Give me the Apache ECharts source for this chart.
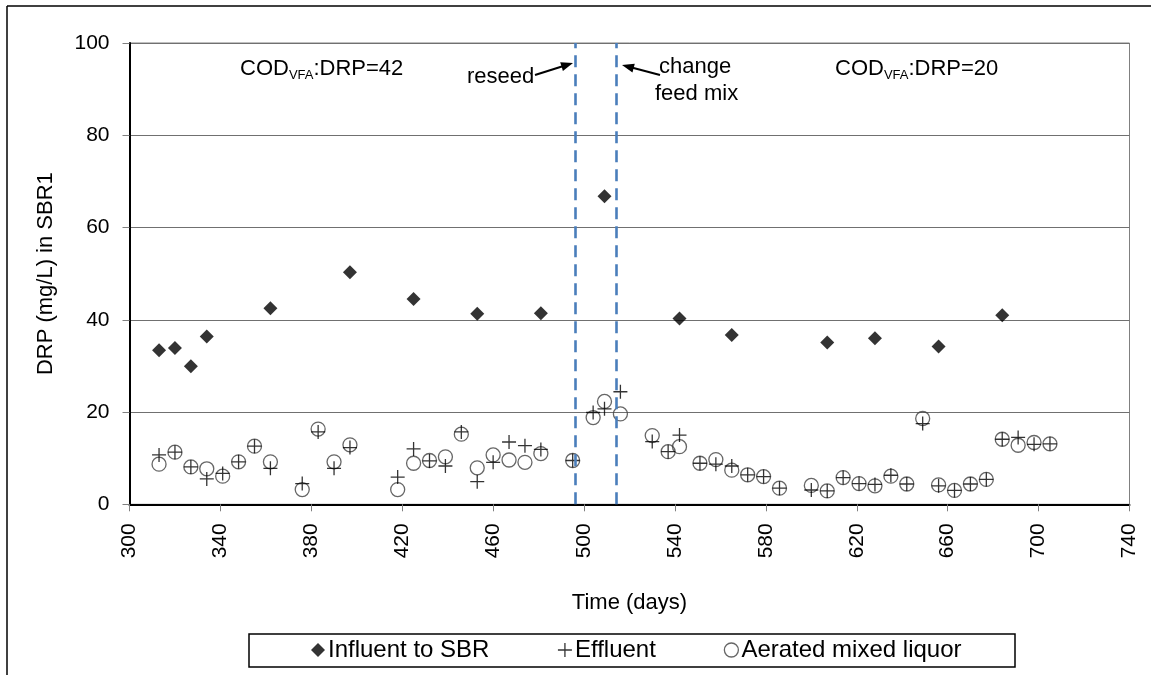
<!DOCTYPE html>
<html>
<head>
<meta charset="utf-8">
<script src="https://cdn.jsdelivr.net/npm/echarts@6/dist/echarts.min.js"></script>
<style>
html,body{margin:0;padding:0;background:#fff;}
#chart{width:1151px;height:675px;}
</style>
</head>
<body>
<div id="chart"></div>
<script>
// ---- data ----
var influentDays = [313, 320, 327, 334, 362, 397, 425, 453, 481, 509, 542, 565, 607, 628, 656, 684];
var influentDRP  = [33.4, 33.9, 29.9, 36.4, 42.5, 50.3, 44.5, 41.3, 41.4, 66.8, 40.3, 36.7, 35.1, 36.0, 34.2, 41.0];

var sampleDays = [313, 320, 327, 334, 341, 348, 355, 362, 376, 383, 390, 397, 418, 425, 432, 439, 446, 453, 460, 467, 474, 481, 495, 504, 509, 516, 530, 537, 542, 551, 558, 565, 572, 579, 586, 600, 607, 614, 621, 628, 635, 642, 649, 656, 663, 670, 677, 684, 691, 698, 705];
var effluentDRP = [10.7, 11.3, 8.1, 5.5, 6.7, 9.2, 12.6, 7.8, 4.5, 15.7, 7.8, 12.3, 5.9, 12.0, 9.4, 8.3, 15.7, 4.9, 9.1, 13.5, 12.7, 11.9, 9.5, 19.9, 20.7, 24.4, 13.6, 11.4, 15.0, 8.9, 8.7, 8.3, 6.4, 6.0, 3.5, 3.1, 2.9, 5.8, 4.5, 4.3, 6.3, 4.4, 17.5, 4.0, 3.0, 4.4, 5.4, 14.1, 14.5, 13.0, 13.1];
var aeratedDRP  = [8.7, 11.3, 8.1, 7.7, 6.1, 9.2, 12.6, 9.2, 3.2, 16.3, 9.2, 12.9, 3.2, 8.9, 9.5, 10.3, 15.2, 7.9, 10.7, 9.6, 9.1, 11.0, 9.5, 18.8, 22.3, 19.6, 14.9, 11.4, 12.5, 8.9, 9.7, 7.4, 6.4, 6.0, 3.5, 4.1, 2.9, 5.8, 4.5, 4.0, 6.1, 4.4, 18.6, 4.2, 3.0, 4.4, 5.4, 14.1, 12.8, 13.4, 13.1];

var eventDays = [496, 514];            // reseed, change feed mix
var seriesNames = ['Influent to SBR', 'Effluent', 'Aerated mixed liquor'];
var xTicks = {min: 300, max: 740, interval: 40};
var yTicks = {min: 0, max: 100, interval: 20};

function pairs(xs, ys) { return xs.map(function (x, i) { return [x, ys[i]]; }); }

var FONT = '"Liberation Sans", Arial, "DejaVu Sans", sans-serif';
var PLUS = 'path://M7,0L7,14M0,7L14,7';

function arrow(x1, y1, x2, y2) {
  var dx = x2 - x1, dy = y2 - y1, L = Math.sqrt(dx * dx + dy * dy);
  var ux = dx / L, uy = dy / L, hl = 12, hw = 4.5;
  var bx = x2 - ux * hl, by = y2 - uy * hl;
  return [
    {type: 'line', shape: {x1: x1, y1: y1, x2: bx + ux * 2, y2: by + uy * 2}, style: {stroke: '#000', lineWidth: 2}},
    {type: 'polygon', shape: {points: [[x2, y2], [bx - uy * hw, by + ux * hw], [bx + uy * hw, by - ux * hw]]}, style: {fill: '#000'}}
  ];
}

var codRich = {
  a: {fontSize: 22, fontFamily: FONT, color: '#000'},
  b: {fontSize: 13, fontFamily: FONT, color: '#000', padding: [12, 0, 0, 0]}
};

var chart = echarts.init(document.getElementById('chart'));
var option = {
  backgroundColor: '#fff',
  animation: false,
  grid: {left: 129.5, right: 21.5, top: 43, bottom: 170.7, show: true, borderColor: '#808080', borderWidth: 1},
  xAxis: {
    type: 'value', min: xTicks.min, max: xTicks.max, interval: xTicks.interval,
    name: 'Time (days)', nameLocation: 'middle', nameGap: 88,
    nameTextStyle: {fontSize: 22, fontFamily: FONT, color: '#000'},
    axisLine: {show: true, lineStyle: {color: '#000', width: 2}},
    axisTick: {show: true, length: 7, lineStyle: {color: '#808080', width: 1}},
    axisLabel: {rotate: 90, margin: 19, fontSize: 21, fontFamily: FONT, color: '#000'},
    splitLine: {show: false}
  },
  yAxis: {
    type: 'value', min: yTicks.min, max: yTicks.max, interval: yTicks.interval,
    name: 'DRP (mg/L) in SBR1', nameLocation: 'middle', nameGap: 73,
    nameTextStyle: {fontSize: 22, fontFamily: FONT, color: '#000'},
    axisLine: {show: true, lineStyle: {color: '#000', width: 2}},
    axisTick: {show: true, length: 7, lineStyle: {color: '#808080', width: 1}},
    axisLabel: {margin: 20, fontSize: 21, fontFamily: FONT, color: '#000'},
    splitLine: {show: true, lineStyle: {color: '#707070', width: 1.2}}
  },
  legend: {
    left: 311, top: 638, padding: 0, itemGap: 66, itemWidth: 14, itemHeight: 14,
    textStyle: {fontSize: 24, fontFamily: FONT, color: '#000', padding: [0, 0, 0, -2]},
    data: [
      {name: seriesNames[0], icon: 'diamond', itemStyle: {color: '#000'}},
      {name: seriesNames[1], icon: PLUS, itemStyle: {color: 'none', borderColor: '#000', borderWidth: 1.3}},
      {name: seriesNames[2], icon: 'circle', itemStyle: {color: 'none', borderColor: '#404040', borderWidth: 1.3}}
    ]
  },
  series: [
    {
      name: seriesNames[2], type: 'scatter', symbol: 'circle', symbolSize: 14,
      itemStyle: {color: 'none', borderColor: '#404040', borderWidth: 1.3},
      data: pairs(sampleDays, aeratedDRP), z: 3
    },
    {
      name: seriesNames[1], type: 'scatter', symbol: PLUS, symbolSize: 14,
      itemStyle: {color: 'none', borderColor: '#000', borderWidth: 1.3},
      data: pairs(sampleDays, effluentDRP), z: 4
    },
    {
      name: seriesNames[0], type: 'scatter', symbol: 'diamond', symbolSize: 14,
      itemStyle: {color: '#000'},
      data: pairs(influentDays, influentDRP), z: 5,
      markLine: {
        silent: true, symbol: ['none', 'none'], label: {show: false},
        lineStyle: {color: '#4a7ebb', width: 2.6, type: [12, 7]},
        data: eventDays.map(function (d) { return {xAxis: d}; })
      }
    }
  ],
  graphic: [
    {type: 'line', shape: {x1: 7, y1: 6, x2: 1151, y2: 6}, style: {stroke: '#000', lineWidth: 1.5}},
    {type: 'line', shape: {x1: 7, y1: 6, x2: 7, y2: 675}, style: {stroke: '#000', lineWidth: 1.5}},
    {type: 'rect', shape: {x: 249, y: 634, width: 766, height: 33}, style: {fill: 'none', stroke: '#000', lineWidth: 1.5}},
    {type: 'text', left: 240, top: 58, style: {text: '{a|COD}{b|VFA}{a|:DRP=42}', rich: codRich}},
    {type: 'text', left: 835, top: 58, style: {text: '{a|COD}{b|VFA}{a|:DRP=20}', rich: codRich}},
    {type: 'text', x: 467, y: 77, style: {text: 'reseed', font: '22px ' + FONT, fill: '#000', verticalAlign: 'middle'}},
    {type: 'text', x: 659, y: 67, style: {text: 'change', font: '22px ' + FONT, fill: '#000', verticalAlign: 'middle'}},
    {type: 'text', x: 655, y: 94, style: {text: 'feed mix', font: '22px ' + FONT, fill: '#000', verticalAlign: 'middle'}}
  ].concat(arrow(535, 75, 573, 63)).concat(arrow(660, 75, 622, 65))
};
chart.setOption(option);
</script>
</body>
</html>
